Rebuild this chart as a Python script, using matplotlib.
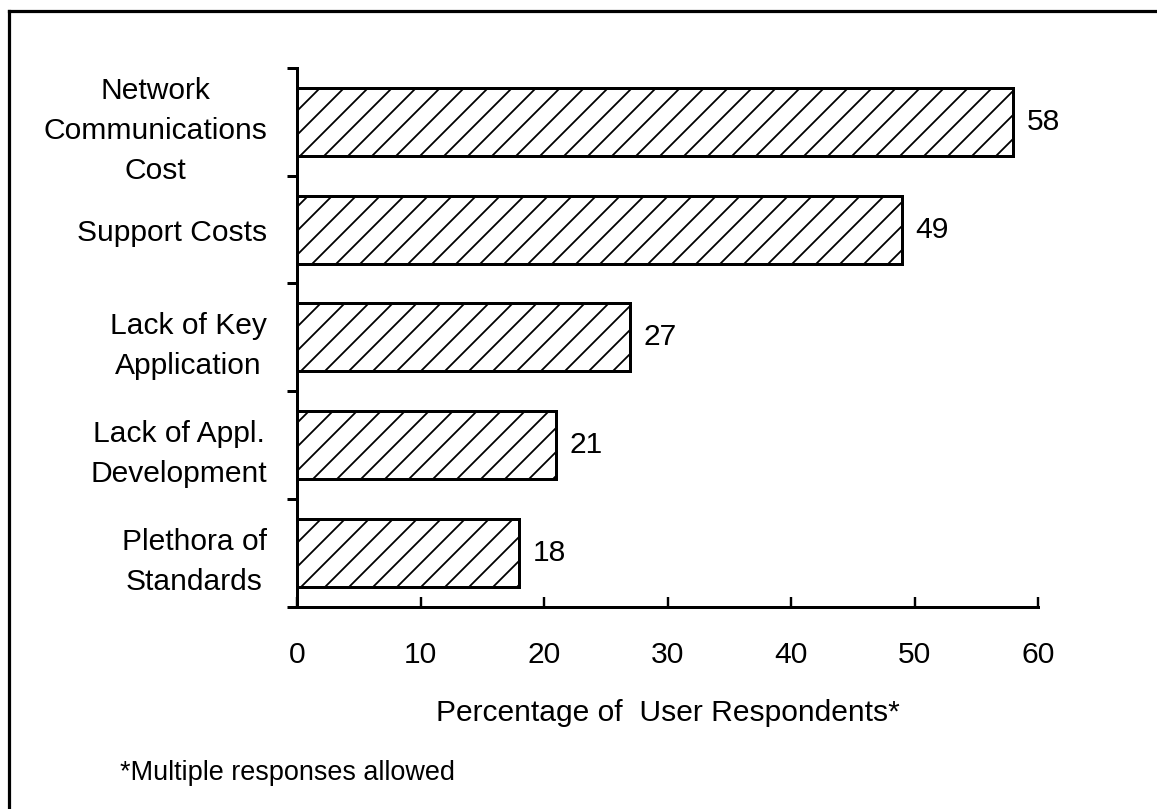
import matplotlib.pyplot as plt
from matplotlib.lines import Line2D

# data (top to bottom)
categories = ["Network\nCommunications\nCost", "Support Costs", "Lack of Key\nApplication",
              "Lack of Appl.\nDevelopment", "Plethora of\nStandards"]
values = [58, 49, 27, 21, 18]
xticks = [0, 10, 20, 30, 40, 50, 60]

plt.rcParams['font.family'] = ['Liberation Sans', 'DejaVu Sans']
plt.rcParams['hatch.linewidth'] = 0.9

fig = plt.figure(figsize=(1157 / 144, 809 / 144), dpi=144)
ax = fig.add_axes([0.2567, 0.2501, 0.8972 - 0.2567, 0.9159 - 0.2501])

pos = list(range(len(categories)))
ax.barh(pos, values, height=0.63, color='white', edgecolor='black',
        linewidth=1.5, hatch='//')

ax.set_xlim(0, 60)
ax.set_ylim(len(categories) - 0.5, -0.5)

# value labels
for p, v in zip(pos, values):
    ax.text(v + 1.05, p, str(v), va='center', ha='left', fontsize=15)

# category boundaries as major ticks, names as minor ticks
ax.set_yticks([p - 0.5 for p in pos] + [len(categories) - 0.5])
ax.set_yticklabels([])
ax.set_yticks(pos, minor=True)
ax.set_yticklabels(categories, minor=True, fontsize=15, multialignment='center',
                   linespacing=1.55)
ax.tick_params(axis='y', which='major', direction='out', length=5, width=1.5)
ax.tick_params(axis='y', which='minor', length=0, pad=15)

ax.set_xticks(xticks)
ax.tick_params(axis='x', direction='in', length=5, width=1.2, pad=17, labelsize=15)
ax.set_xlabel("Percentage of  User Respondents*", fontsize=15, labelpad=15)

for s in ['top', 'right']:
    ax.spines[s].set_visible(False)
for s in ['left', 'bottom']:
    ax.spines[s].set_linewidth(1.5)

fig.text(0.104, 0.036, "*Multiple responses allowed", fontsize=13.5, ha='left', va='baseline')

# page frame (only top and left edges show)
fig.add_artist(Line2D([0.008, 1.0], [0.987, 0.987], color='black', lw=1.6, transform=fig.transFigure))
fig.add_artist(Line2D([0.008, 0.008], [0.0, 0.987], color='black', lw=1.6, transform=fig.transFigure))

fig.savefig("out.png", dpi=144, facecolor='white')
